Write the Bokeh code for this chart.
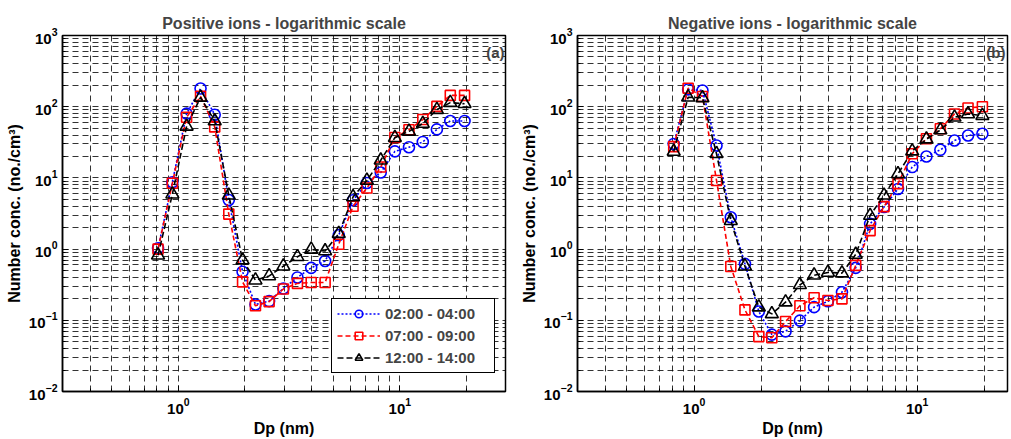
from bokeh.plotting import figure
from bokeh.layouts import row
from bokeh.models import FixedTicker, Label, Legend, LegendItem
from bokeh.embed import file_html
from bokeh.resources import INLINE

# ---- data ----
dp = [0.81, 0.94, 1.09, 1.26, 1.46, 1.69, 1.95, 2.23, 2.57, 2.98, 3.45, 3.98,
      4.6, 5.3, 6.15, 7.1, 8.2, 9.5, 11.0, 12.7, 14.7, 16.9, 19.6]

series_labels = ["02:00 - 04:00", "07:00 - 09:00", "12:00 - 14:00"]

pos_0204 = [1.03, 8.7, 80, 180, 77, 4.9, 0.48, 0.167, 0.186, 0.28, 0.40, 0.545,
            0.68, 1.57, 4.85, 8.5, 11.9, 23.6, 27, 32, 48, 63, 63]
pos_0709 = [1.0, 8.4, 71, 140, 52, 3.1, 0.347, 0.16, 0.183, 0.275, 0.33, 0.34,
            0.34, 1.17, 4.0, 7.2, 14.2, 37, 47.5, 66, 101, 144, 144]
pos_1214 = [0.82, 5.9, 53, 135, 63, 5.7, 0.70, 0.366, 0.42, 0.575, 0.78, 0.99,
            0.94, 1.65, 5.4, 9.2, 17.7, 36.7, 45, 58, 91, 114, 110]

neg_0204 = [30, 175, 169, 28.5, 2.8, 0.62, 0.133, 0.063, 0.070, 0.099, 0.153, 0.185,
            0.248, 0.545, 2.26, 3.9, 7.0, 14.2, 20, 24.8, 33.5, 39.4, 41.6]
neg_0709 = [27.5, 182, 139, 9.2, 0.57, 0.14, 0.059, 0.057, 0.096, 0.16, 0.207, 0.19,
            0.2, 0.59, 1.82, 3.95, 8.3, 21.8, 35.4, 49, 79, 96, 100]
neg_1214 = [23.5, 136, 133, 21.8, 2.5, 0.575, 0.153, 0.123, 0.18, 0.315, 0.43, 0.47,
            0.46, 0.84, 2.96, 5.7, 11.4, 23.8, 35, 47, 71, 79, 75]

x_major = [1, 10]
x_minor = [0.3, 0.4, 0.5, 0.6, 0.7, 0.8, 0.9, 2, 3, 4, 5, 6, 7, 8, 9, 20, 30]
y_major = [0.01, 0.1, 1, 10, 100, 1000]
y_minor = [m * d for d in [0.01, 0.1, 1, 10, 100] for m in range(2, 10)]

FONT = "Liberation Sans"
styles = [
    dict(color="#0000ff", dash="2 2", marker="circle", size=11),
    dict(color="#ff0000", dash="5 3", marker="square", size=10),
    dict(color="#000000", dash="6 3", marker="triangle", size=13),
]


def make_fig(title, x_end, frame_w, bl, br):
    p = figure(x_axis_type="log", y_axis_type="log",
               x_range=(0.3, x_end), y_range=(0.01, 1000),
               frame_width=frame_w, frame_height=356,
               min_border_left=bl, min_border_right=br,
               min_border_top=35, min_border_bottom=47,
               output_backend="svg", toolbar_location=None)
    p.title.text = title
    p.title.align = "center"
    p.title.text_font = FONT
    p.title.text_font_size = "16px"
    p.title.text_font_style = "bold"
    p.title.standoff = 7
    p.outline_line_color = "black"
    p.outline_line_width = 1.5
    p.outline_line_alpha = 1
    p.background_fill_color = "white"
    p.border_fill_color = "white"

    p.xaxis.ticker = FixedTicker(ticks=x_major, minor_ticks=x_minor)
    p.yaxis.ticker = FixedTicker(ticks=y_major, minor_ticks=y_minor)
    for ax in (p.xaxis, p.yaxis):
        ax.major_label_text_font = FONT
        ax.major_label_text_font_size = "15px"
        ax.major_label_text_font_style = "bold"
        ax.major_label_text_color = "black"
        ax.axis_label_text_font = FONT
        ax.axis_label_text_font_size = "16px"
        ax.axis_label_text_font_style = "bold"
        ax.axis_label_text_color = "black"
        ax.axis_line_color = "black"
        ax.axis_line_width = 1.5
        ax.major_tick_in = 6
        ax.major_tick_out = 0
        ax.minor_tick_in = 3
        ax.minor_tick_out = 0
        ax.major_tick_line_color = "black"
        ax.minor_tick_line_color = "black"
    p.xaxis.axis_label = "Dp (nm)"
    p.yaxis.axis_label = "Number conc. (no./cm\u00b3)"
    p.xaxis.major_label_standoff = 6
    p.xaxis.axis_label_standoff = 3
    p.yaxis.major_label_standoff = 5
    p.yaxis.axis_label_standoff = 3

    for g in (p.xgrid, p.ygrid):
        g.grid_line_color = "black"
        g.grid_line_alpha = 0.8
        g.grid_line_dash = "6 4"
        g.grid_line_width = 1
        g.minor_grid_line_color = "black"
        g.minor_grid_line_alpha = 0.8
        g.minor_grid_line_dash = "6 4"
        g.minor_grid_line_width = 1
    return p


def add_series(p, ys_list):
    items = []
    for lab, ys, st in zip(series_labels, ys_list, styles):
        ln = p.line(dp, ys, line_color=st["color"], line_dash=st["dash"], line_width=1.6)
        sc = p.scatter(dp, ys, marker=st["marker"], size=st["size"], fill_color=None,
                       line_color=st["color"], line_width=1.6)
        items.append(LegendItem(label=lab, renderers=[ln, sc]))
    return items


p1 = make_fig("Positive ions - logarithmic scale", 30, 443, 62, 12)
items = add_series(p1, [pos_0204, pos_0709, pos_1214])
legend = Legend(items=items, location=(269, 18), border_line_color="black",
                border_line_width=1, border_line_alpha=1, background_fill_color="white",
                background_fill_alpha=1, padding=5, spacing=3, margin=0,
                glyph_width=43, glyph_height=19, label_height=19, label_width=104,
                label_standoff=5,
                label_text_font=FONT, label_text_font_size="15px",
                label_text_font_style="bold")
p1.add_layout(legend)
p1.add_layout(Label(x=30, y=575, text="(a)", text_align="right", text_baseline="middle",
                    x_offset=-1, text_font=FONT, text_font_size="15px",
                    text_font_style="bold"))

x_end_b = 25.4
p2 = make_fig("Negative ions - logarithmic scale", x_end_b, 430, 60, 3)
add_series(p2, [neg_0204, neg_0709, neg_1214])
p2.add_layout(Label(x=x_end_b, y=575, text="(b)", text_align="right", text_baseline="middle",
                    x_offset=-2, text_font=FONT, text_font_size="15px",
                    text_font_style="bold"))

layout = row(p1, p2)
open("out.html", "w").write(file_html(layout, INLINE))
